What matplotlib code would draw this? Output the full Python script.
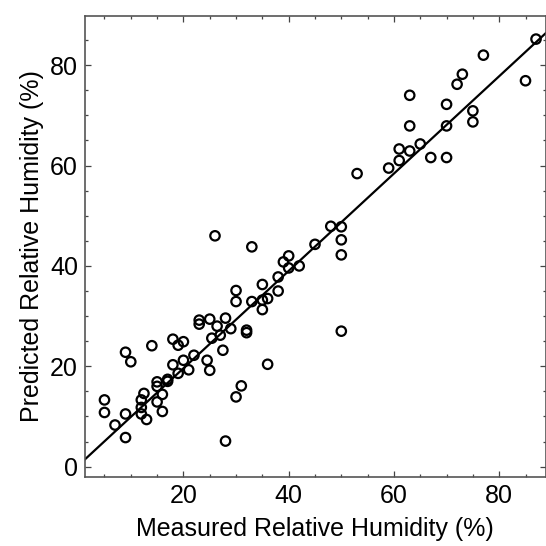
import numpy as np
import matplotlib
matplotlib.use("Agg")
import matplotlib.pyplot as plt
from matplotlib.ticker import MultipleLocator

plt.rcParams['font.family'] = ['Liberation Sans', 'DejaVu Sans']

# measured vs predicted relative humidity (%)
measured = [5, 5, 7, 9, 10, 9, 9, 14, 12, 12.5, 12, 12, 13, 15, 15, 15, 16, 16,
            17, 17, 18, 19, 20, 18, 19, 20, 21, 22, 23, 23, 25, 24.5, 25, 25.4,
            27, 27.5, 28, 26.4, 29, 32, 32, 28, 30, 31, 36,
            30, 30, 33, 35, 36, 38, 35, 35, 38, 39, 40, 40, 42, 45, 48,
            50, 50, 50, 50, 26, 33,
            53, 59, 61, 61, 63, 65, 67, 70, 63, 70, 63, 70, 72, 73, 75, 75,
            77, 85, 87]
predicted = [13.3, 10.8, 8.3, 22.8, 20.9, 10.5, 5.8, 24.1, 13.3, 14.6, 11.8, 10.5,
             9.4, 16.9, 16.0, 12.9, 11.0, 14.4,
             17.4, 17.0, 25.4, 24.2, 24.9, 20.3, 18.6, 21.2, 19.3, 22.2, 29.2, 28.4,
             29.4, 21.2, 19.2, 25.6,
             26.2, 23.2, 29.6, 28.0, 27.5, 27.2, 26.7, 5.1, 13.9, 16.1, 20.4,
             35.1, 32.9, 32.9, 33.2, 33.5, 35.0, 31.3, 36.3, 37.8, 40.8, 42.0,
             39.6, 40.0, 44.3, 47.9,
             47.8, 45.2, 42.2, 27.0, 46.0, 43.8,
             58.4, 59.5, 61.0, 63.3, 62.9, 64.3, 61.6, 61.6, 67.9, 67.9, 74.0,
             72.2, 76.2, 78.2, 70.9, 68.7,
             82.0, 76.9, 85.2]

# fitted line
fit_slope = 0.97
fit_intercept = 0.2

fig = plt.figure(figsize=(5.46, 5.46), dpi=100)
ax = fig.add_axes([85 / 546, 1 - 476.7 / 546, 460.5 / 546, 460.7 / 546])

ax.scatter(measured, predicted, s=46, facecolors='none', edgecolors='black',
           linewidths=1.6, zorder=3)

xlim = (1.3, 88.8)
ylim = (-2.0, 89.8)
xs = np.array(xlim)
ax.plot(xs, fit_slope * xs + fit_intercept, color='black', lw=1.6, zorder=2)

ax.set_xlim(*xlim)
ax.set_ylim(*ylim)

ax.xaxis.set_major_locator(MultipleLocator(20))
ax.xaxis.set_minor_locator(MultipleLocator(5))
ax.yaxis.set_major_locator(MultipleLocator(20))
ax.yaxis.set_minor_locator(MultipleLocator(5))

ax.tick_params(which='both', direction='in', top=True, right=True,
               color='#444444', width=0.9, labelsize=18, pad=5)
ax.tick_params(which='major', length=4.5)
ax.tick_params(which='minor', length=2.5)
for s in ax.spines.values():
    s.set_color('#555555')
    s.set_linewidth(1.2)

ax.set_xlabel('Measured Relative Humidity (%)', fontsize=18, labelpad=7)
ax.set_ylabel('Predicted Relative Humidity (%)', fontsize=18, labelpad=4)

fig.savefig('out.png', dpi=100)
